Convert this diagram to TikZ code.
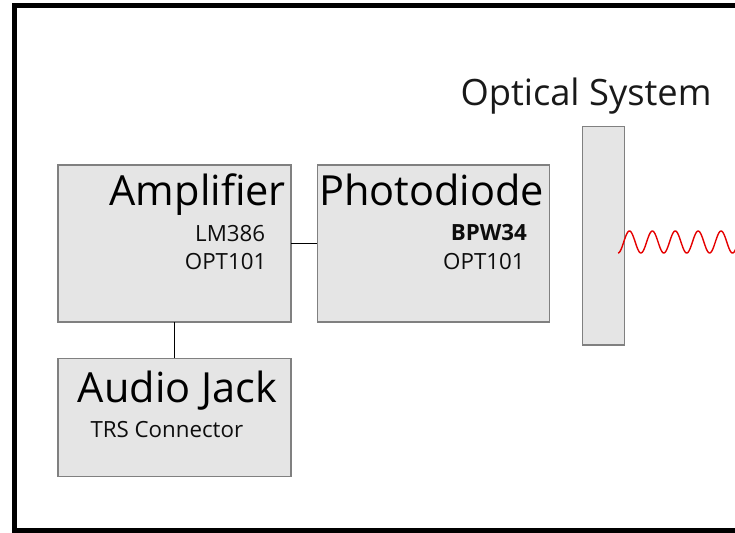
\documentclass[tikz,border=0pt]{standalone}
\usepackage{fontspec}
\setmainfont{Open Sans}
\begin{document}
\begin{tikzpicture}[x=1pt,y=-1pt,
  blockbox/.style={draw=black!50, fill=black!10, line width=1.4pt, inner sep=0pt, outer sep=0pt},
  bigtxt/.style={anchor=base west, inner sep=0pt, text=black, font=\fontsize{41.5}{50}\selectfont},
  smalltxt/.style={anchor=base west, inner sep=0pt, text=black!95, font=\fontsize{22.3}{27}\selectfont},
  link/.style={draw=black, line width=1.9pt}]
\useasboundingbox (0,0) rectangle (735,532);
% frame
\draw[line width=5pt] (740,5.5) -- (14,5.5) -- (14,530.5) -- (740,530.5);
% boxes
\node[blockbox, minimum width=233pt, minimum height=157pt] (amp) at (174.5,243.5) {};
\node[blockbox, minimum width=232pt, minimum height=157pt] (pd) at (433.3,243.5) {};
\node[blockbox, minimum width=233pt, minimum height=118.5pt] (jack) at (174.5,417.5) {};
\node[blockbox, minimum width=41.6pt, minimum height=218.3pt] (opt) at (603.5,235.8) {};
% connectors
\draw[link] (amp) -- (pd);
\draw[link] (amp) -- (jack);
% texts
\node[bigtxt] (ampT) at (109.5,205) {Amplifier};
\node[smalltxt] (ampA) at (195,241.7) {LM386};
\node[smalltxt] (ampB) at (184.7,269) {OPT101};
\node[bigtxt] (pdT) at (319,205) {Photodiode};
\node[smalltxt, font=\fontsize{22.3}{27}\selectfont\bfseries] (pdA) at (450.7,240.7) {BPW34};
\node[smalltxt] (pdB) at (443,269) {OPT101};
\node[bigtxt] (jackT) at (77.7,402.7) {Audio Jack};
\node[smalltxt] (jackA) at (90.3,437.3) {TRS Connector};
\node[anchor=base west, inner sep=0pt, text=black!90, font=\fontsize{36.3}{44}\selectfont] (optT) at (460.3,106) {Optical System};
% wave
\draw[red!90!black, line width=1.4pt] plot[domain=618:736, samples=240, smooth] (\x, {242+11*cos(15.7205*(\x-618))});
\end{tikzpicture}
\end{document}
